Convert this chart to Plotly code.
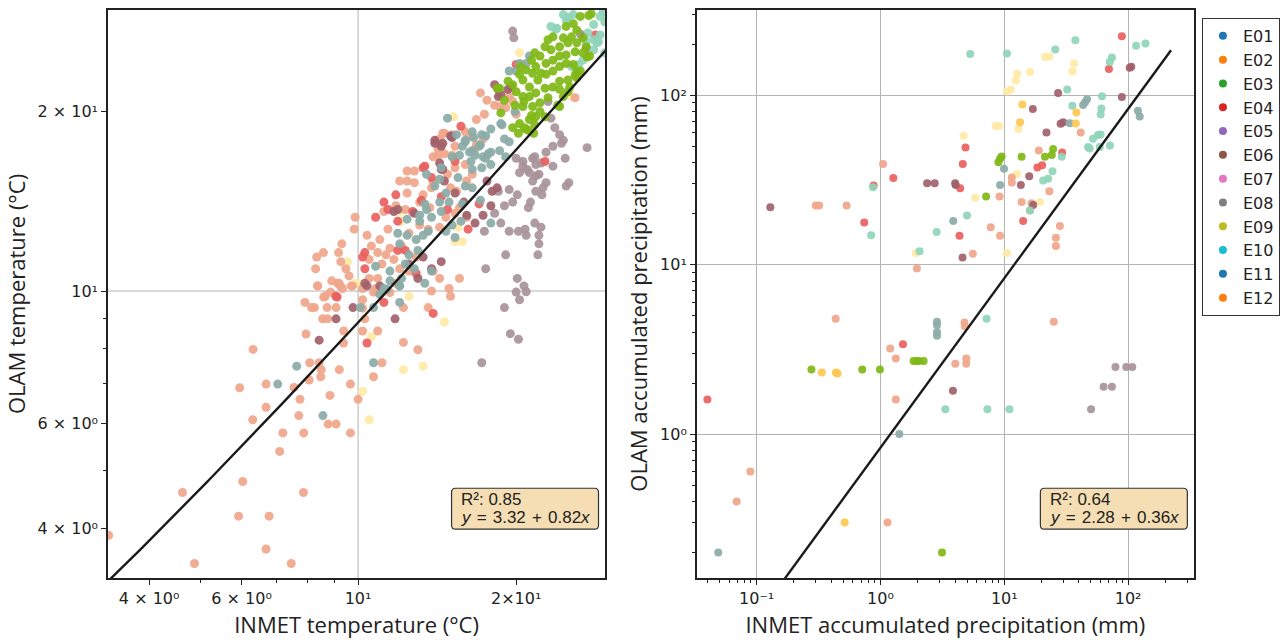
import numpy as np
import plotly.graph_objects as go

# ---------------- data: temperature panel (INMET x, OLAM y) ----------------
T_SALMON_X = [8.38, 9.2, 9.25, 9.7, 8.6, 8.86, 7.92, 8.15, 8.26, 8.73, 9.08, 10.2, 8.56, 8.75, 10.2, 7.96, 9.39, 9.38,
              10.2, 10.9, 10.3, 6.31, 8.09, 8.43, 8.51, 8.49, 8.07, 9.21, 9.67, 10.0, 8.84, 7.75, 7.55, 6.68, 5.95, 6.68,
              6.30, 7.71, 7.19, 7.88, 8.77, 9.08, 9.67, 7.09, 6.03, 4.63, 7.87, 5.92, 6.77, 3.35, 6.68, 4.88, 7.46, 11.1,
              10.7, 12.2, 12.2, 10.7, 13.6, 13.0, 8.3,
              9.87, 9.83, 9.31, 9.18, 8.34, 8.59, 9.27, 9.48, 9.61, 8.91, 8.37, 8.66, 9.14, 9.34, 9.76, 10.4, 10.6, 10.5,
              10.9, 11.0, 11.4, 11.2, 12.0, 12.4, 12.8, 12.4, 12.8, 12.4, 11.8, 12.3, 13.1, 13.7, 13.3, 13.8, 13.9, 14.2,
              14.6, 14.5, 15.1, 15.1, 15.3, 14.8, 15.0, 15.4, 16.0, 16.1, 15.6, 15.3, 16.1, 14.7, 14.3, 13.6, 13.1, 12.5,
              12.1, 11.5, 11.3, 11.1, 10.9, 10.8, 10.5, 10.2, 12.0, 12.5, 12.9, 11.7, 11.8, 11.5, 13.9, 14.3, 14.9, 15.0,
              15.6, 13.8, 11.1, 17.3, 16.7, 16.5,
              17.1, 17.6, 18.2, 18.6, 19.4, 19.7, 20.0, 19.1, 17.4, 16.8, 16.0, 15.1, 14.6, 14.3, 15.3, 14.2, 13.9, 16.4,
              16.8, 25.9]
T_SALMON_Y = [10.2, 10.3, 10.2, 10.2, 9.77, 9.96, 9.57, 9.38, 9.38, 9.38, 9.38, 9.67, 8.98, 8.98, 9.36, 8.47, 8.57, 8.18,
              8.57, 8.57, 8.98, 7.98, 7.58, 7.58, 7.38, 7.18, 7.09, 7.38, 6.98, 6.58, 6.68, 6.58, 6.89, 6.98, 6.88, 6.38,
              6.08, 6.18, 5.78, 5.78, 5.98, 5.98, 5.78, 5.38, 4.79, 4.59, 4.59, 4.19, 4.19, 3.89, 3.69, 3.49, 3.49, 7.58,
              7.18, 8.2, 9.38, 9.96, 9.38, 7.97, 10.9,
              13.3, 12.7, 12.0, 11.6, 11.4, 11.6, 11.2, 10.9, 10.6, 10.4, 10.2, 9.8, 10.3, 10.1, 10.2, 12.4, 11.9, 11.3,
              11.6, 12.2, 12.7, 13.6, 15.3, 15.9, 15.9, 15.3, 15.2, 14.6, 13.9, 13.7, 14.1, 13.8, 14.5, 14.9, 15.2, 16.9,
              17.0, 18.4, 18.2, 16.9, 16.1, 15.7, 14.9, 14.7, 16.3, 15.3, 13.8, 13.5, 13.3, 13.3, 12.8, 12.7, 12.9, 12.5,
              11.9, 11.8, 11.5, 11.1, 10.5, 10.1, 10.5, 10.1, 10.9, 10.8, 11.4, 11.3, 10.3, 9.94, 10.8, 10.5, 10.1, 9.8,
              10.5, 10.0, 10.0, 18.0, 17.3, 15.7,
              21.5, 20.9, 20.5, 20.4, 21.2, 20.8, 19.8, 20.3, 19.8, 19.4, 18.5, 18.3, 18.4, 18.0, 17.5, 17.3, 16.8, 18.2,
              17.6, 21.1]

T_RED_X = [9.12, 10.4, 11.2, 13.9, 10.8, 11.2, 11.8, 10.2, 10.3, 11.4, 11.9, 12.3, 13.3, 13.8, 15.3, 16.2, 17.0, 14.4,
           14.8, 12.7, 13.2, 9.07, 11.9, 12.9, 10.3, 20.0, 13.4, 15.7, 22.7, 28.3]
T_RED_Y = [9.77, 8.18, 9.57, 9.17, 13.3, 14.1, 14.5, 11.4, 11.6, 13.7, 13.1, 11.7, 16.1, 15.5, 16.5, 12.7, 14.0, 14.4,
           13.7, 13.6, 14.2, 9.8, 11.7, 10.7, 10.9, 24.0, 16.2, 18.9, 16.5, 26.9]

T_MAROON_X = [9.78, 9.08, 8.43, 11.76, 10.4, 11.0, 11.9, 11.7, 12.8, 14.0, 14.4, 15.0, 14.4, 15.9, 16.1, 16.7, 17.9,
              18.0, 10.3, 13.3, 13.8, 14.4, 13.0, 15.3, 14.6, 17.3, 17.6, 18.4, 12.5, 18.2, 18.5, 18.7, 19.3, 19.6,
              14.0, 14.5, 14.5, 14.3, 15.1, 18.5, 26.9, 27.2]
T_MAROON_Y = [9.38, 8.98, 8.27, 8.98, 10.2, 10.2, 13.7, 13.6, 13.5, 17.7, 17.5, 18.2, 16.0, 14.1, 13.4, 13.0, 13.9,
              14.7, 10.3, 11.4, 10.9, 11.2, 10.5, 14.6, 15.3, 13.4, 15.3, 14.9, 11.1, 22.2, 21.8, 21.4, 21.8, 22.0,
              17.9, 17.7, 16.0, 16.4, 18.1, 21.2, 26.7, 25.6]

T_TEAL_X = [7.64, 7.03, 8.57, 10.1, 10.7, 10.7, 12.0, 11.35, 12.0,
            13.5, 14.3, 14.0, 14.7, 13.4, 13.5, 13.1, 14.3, 14.9, 14.4, 13.1, 12.4, 13.8, 14.7, 15.1, 13.6, 13.3, 12.9,
            11.9, 12.4, 12.0, 12.5, 13.0, 12.3, 12.8, 12.1, 11.5, 10.8, 11.2, 11.5, 12.0, 11.0, 13.4, 13.8, 15.3, 15.7,
            15.4, 16.0, 16.5, 17.2, 17.1, 16.7, 17.3, 17.7, 16.3, 15.8, 16.4, 17.9, 16.5, 17.2, 15.5, 16.0, 16.5, 17.1,
            17.9, 15.8, 14.4,
            20.0, 19.4, 20.9, 21.2, 20.3, 14.8, 15.1, 15.6, 16.5, 17.0, 17.5, 17.9, 18.6, 19.0, 19.4, 19.1, 17.9, 17.5,
            18.8, 18.7, 19.9, 16.6, 16.0]
T_TEAL_Y = [7.48, 6.98, 6.18, 9.38, 9.38, 7.58, 9.57, 10.07, 10.2,
            15.7, 15.4, 15.0, 14.6, 14.0, 13.7, 13.4, 14.1, 14.1, 13.6, 13.1, 13.2, 13.3, 12.6, 12.9, 12.6, 12.4, 12.2,
            12.5, 12.4, 12.0, 11.5, 11.7, 11.1, 10.9, 10.5, 10.8, 11.0, 10.1, 10.4, 10.2, 9.87, 10.3, 10.8, 12.3, 13.1,
            18.3, 17.9, 18.5, 18.3, 17.6, 16.9, 16.8, 17.0, 17.1, 17.5, 16.5, 16.3, 16.0, 16.1, 15.5, 15.0, 14.9, 14.2,
            13.0, 14.0, 16.1,
            23.4, 23.4, 24.1, 24.8, 24.1, 19.5, 16.8, 16.9, 17.2, 17.5, 16.7, 17.1, 17.2, 18.0, 17.8, 16.8, 18.7, 18.2,
            19.0, 19.1, 20.0, 18.1, 17.8]

T_MAUVE_X = [27.3, 24.4, 24.8, 25.2, 24.9, 22.8, 22.5, 22.4, 21.1, 21.3, 21.8, 21.5, 21.8, 21.0, 21.5, 22.1, 20.1, 19.7,
             19.4, 20.3, 20.6, 18.5, 19.0, 18.2, 18.7, 17.4, 19.4, 20.2, 20.8, 20.9, 21.7, 22.3, 22.1, 22.1, 22.0, 19.1,
             17.5, 20.1, 20.7, 20.9, 20.0, 20.3, 19.0, 19.5, 20.2,
             23.7, 24.2, 23.5, 22.8, 21.7, 22.3, 23.5, 21.2, 21.8, 26.5, 23.0, 23.3, 24.6, 20.0, 20.6, 17.2, 19.8, 19.7]
T_MAUVE_Y = [17.4, 17.7, 16.7, 15.2, 15.0, 15.2, 14.9, 14.5, 13.8, 14.1, 14.7, 15.3, 16.3, 16.0, 16.7, 15.7, 14.5, 14.1,
             14.8, 15.8, 16.5, 14.7, 13.9, 13.5, 13.0, 12.6, 12.6, 12.6, 12.7, 12.4, 13.0, 12.8, 12.4, 12.0, 11.5, 11.5,
             10.9, 10.5, 10.2, 9.97, 9.96, 9.67, 9.38, 8.48, 8.3,
             18.8, 18.3, 17.5, 17.1, 16.8, 16.4, 16.2, 15.8, 15.6, 27.0, 20.8, 19.5, 17.9, 16.7, 16.2, 7.58, 26.6, 27.3]

T_YELLOW_X = [10.6, 10.2, 10.5, 12.2, 9.87, 14.6, 13.3, 9.55, 10.0, 12.1, 12.5, 15.3, 15.8, 12.0, 15.5, 15.2, 20.3, 25.5]
T_YELLOW_Y = [8.38, 6.79, 6.08, 7.38, 10.3, 8.87, 7.48, 11.2, 10.3, 13.1, 9.8, 12.1, 12.1, 13.6, 12.8, 19.6, 25.1, 21.2]

T_MINT_X = [25.7, 28.9, 29.5, 28.1, 28.9, 28.1, 27.2, 28.1, 26.8, 26.3, 25.5, 26.1, 28.5, 27.4, 23.9, 24.9, 24.6, 23.3,
            29.5, 23.8, 25.1, 28.7, 29.3]
T_MINT_Y = [29.1, 28.9, 28.3, 28.0, 26.9, 26.4, 26.2, 25.4, 24.4, 24.0, 23.8, 23.2, 26.1, 27.1, 27.6, 28.5, 29.1, 27.8,
            25.1, 27.5, 28.8, 26.2, 29.4]

T_GREEN_X = [26.5, 27.8, 25.7, 24.9, 26.1, 25.5, 24.6, 23.5, 23.0, 22.7, 23.3, 24.2, 25.1, 26.1, 26.8, 25.9, 24.9, 24.2,
             23.5, 22.8, 22.2, 21.7, 21.4, 21.8, 22.3, 21.5, 20.9, 20.4, 20.3, 20.6, 21.2, 22.0, 22.8, 23.5, 24.2, 24.9,
             25.7, 26.5, 26.1, 25.1, 24.2, 23.5, 22.7, 21.8, 21.2, 20.6, 20.0, 19.3, 18.6, 19.0, 19.9, 20.6, 21.5, 22.2,
             23.0, 24.2, 21.8, 21.2, 20.3, 19.7, 20.2, 20.9, 18.7, 24.2, 27.6, 27.2, 26.8, 26.1, 25.3, 25.1, 24.6, 22.2,
             22.7, 21.7, 20.7,
             18.4, 19.7, 20.7, 21.4, 21.1, 21.6, 24.0, 25.9, 27.3, 27.5]
T_GREEN_Y = [28.9, 29.2, 28.1, 27.8, 27.4, 26.7, 26.6, 26.7, 26.4, 25.7, 25.4, 25.7, 26.1, 26.1, 26.6, 25.2, 24.9, 24.8,
             24.4, 24.1, 24.8, 25.1, 24.4, 23.8, 23.2, 23.2, 23.5, 23.8, 23.1, 22.6, 22.0, 22.6, 23.1, 23.4, 23.8, 24.1,
             24.0, 23.4, 22.8, 22.6, 22.5, 22.0, 21.9, 21.5, 21.2, 21.2, 21.6, 22.5, 21.9, 20.9, 20.5, 20.4, 20.4, 20.7,
             21.1, 20.4, 19.6, 19.4, 19.1, 18.8, 18.4, 18.7, 19.9, 21.8, 24.8, 25.7, 25.1, 23.4, 22.0, 21.6, 21.2, 20.0,
             19.6, 19.0, 18.8,
             21.9, 22.2, 20.8, 19.7, 18.6, 18.4, 20.5, 23.0, 24.7, 29.0]

# linear fit drawn on the temperature panel: y = a + b*x
T_FIT_A, T_FIT_B = 0.45, 0.84

# ---------------- data: precipitation panel (INMET x, OLAM y) ----------------
P_MINT_X = [5.3, 10.5, 25.8, 37.5, 32.2, 35.5, 61.5, 60.8, 60, 74, 71, 116, 138, 52, 57, 60, 47.5, 49, 59, 71.3, 29.1,
            24.5, 22.6, 20.6, 5.0, 2.84, 0.84, 0.87, 2.07, 7.2, 3.34, 7.3, 11.0, 16.1]
P_MINT_Y = [175, 176, 186, 211, 108, 86.7, 98.6, 83.4, 77, 167, 157, 196, 202, 55.4, 58.2, 58.7, 49.4, 48.5, 49.4, 50.4,
            43.3, 35.6, 32.1, 31.4, 19.5, 15.6, 14.9, 28.6, 12.0, 4.79, 1.40, 1.40, 1.40, 20.9]

P_TEAL_X = [43.3, 44.9, 46.6, 33.8, 120, 124, 9.95, 9.24, 3.87, 2.86, 2.86, 2.86, 2.86, 1.42, 0.049]
P_TEAL_Y = [87.5, 91, 94.7, 68.4, 80.9, 74.8, 36.8, 29.5, 18.1, 4.6, 4.4, 4.0, 3.8, 1.0, 0.20]

P_RED_X = [89, 70, 4.86, 4.62, 1.27, 0.88, 4.40, 0.74, 4.35, 14.2, 18.5, 20.2, 29.3, 1.52, 0.040]
P_RED_Y = [223, 143, 49.2, 39.2, 32.4, 29.3, 28.2, 17.7, 14.8, 18.1, 37.4, 38.6, 45.9, 3.39, 1.60]

P_MAROON_X = [27.2, 17.0, 89, 106, 103, 21.9, 28.5, 29.9, 15.9, 13.6, 17.1, 2.38, 2.74, 4.01, 4.05, 0.129, 4.60, 3.85]
P_MAROON_Y = [103, 83, 97.5, 147, 145, 60.2, 67.8, 69.2, 33.2, 29.5, 22.5, 30.2, 30.2, 30.2, 29.5, 21.8, 11.0, 1.80]

P_YELLOW_X = [21.3, 23.1, 35.5, 36.6, 12.7, 16.1, 12.4, 10.5, 11.3, 8.53, 9.07, 13.0, 4.69, 12.6, 5.85, 19.4, 10.5, 1.93]
P_YELLOW_Y = [168, 169, 138, 154, 134, 137, 122, 105, 108, 65.8, 65.8, 63.2, 57.6, 34.3, 24.8, 23.4, 11.7, 11.7]

P_GOLD_X = [14.0, 13.4, 38.2, 37.8, 0.336, 0.437, 0.45, 0.514]
P_GOLD_Y = [88, 69.2, 79, 68.1, 2.31, 2.31, 2.28, 0.30]

P_GREEN_X = [9.24, 8.96, 9.52, 13.8, 21.3, 24.2, 24.8, 7.13, 0.277, 0.713, 0.99, 1.85, 1.95, 2.04, 2.23, 3.14]
P_GREEN_Y = [42.2, 40.2, 43.5, 43.3, 43.3, 44.4, 48.2, 25.2, 2.40, 2.40, 2.40, 2.70, 2.70, 2.70, 2.70, 0.20]

P_SALMON_X = [1.05, 41.4, 19.0, 11.5, 11.5, 9.15, 13.8, 16.6, 16.1, 23.1, 28.1, 26.1, 26.1, 7.77, 9.24, 5.57, 1.97,
              0.533, 0.30, 0.32, 0.435, 4.77, 4.80, 1.20, 1.33, 4.02, 4.93, 4.93, 25.1, 1.33, 0.089, 0.069, 1.14]
P_SALMON_Y = [39.2, 60.2, 47.1, 32.7, 30.5, 25.2, 23.4, 23.0, 20.9, 27.1, 16.9, 14.4, 12.9, 16.6, 14.8, 11.6, 9.5,
              22.3, 22.3, 22.3, 4.79, 4.56, 4.32, 3.20, 2.79, 2.60, 2.79, 2.60, 4.60, 1.60, 0.60, 0.40, 0.30]

P_MAUVE_X = [79, 96.6, 108, 63.4, 74, 50.2]
P_MAUVE_Y = [2.49, 2.49, 2.49, 1.90, 1.90, 1.40]

P_FIT_A, P_FIT_B = 0.0, 0.83
P_FIT_XMAX = 222

LEGEND_NAMES = ["E01", "E02", "E03", "E04", "E05", "E06", "E07", "E08", "E09", "E10", "E11", "E12"]
LEGEND_COLORS = ["#1f77b4", "#ff7f0e", "#2ca02c", "#d62728", "#9467bd", "#8c564b",
                 "#e377c2", "#7f7f7f", "#bcbd22", "#17becf", "#1f77b4", "#ff7f0e"]

T_XTICKS = [4, 6, 10, 20]
T_XTICKTEXT = ["4 × 10⁰", "6 × 10⁰", "10¹", "2×10¹"]
T_YTICKS = [4, 6, 10, 20]
T_YTICKTEXT = ["4 × 10⁰", "6 × 10⁰", "10¹", "2 × 10¹"]
P_XTICKS = [0.1, 1, 10, 100]
P_XTICKTEXT = ["10⁻¹", "10⁰", "10¹", "10²"]
P_YTICKS = [1, 10, 100]
P_YTICKTEXT = ["10⁰", "10¹", "10²"]

STATS_TEXT = [("R²: 0.85", "<i>y</i>\u200a = \u200a3.32\u200a + \u200a0.82<i>x</i>"),
              ("R²: 0.64", "<i>y</i>\u200a = \u200a2.28\u200a + \u200a0.36<i>x</i>")]

# ---------------- styling ----------------
COL = {
    "yellow": "#FFE9A4", "mauve": "#A8939A", "salmon": "#F0A68B", "red": "#E9605E",
    "maroon": "#A1616A", "teal": "#8AABA7", "mint": "#8FD5B8", "gold": "#FFC74F", "green": "#80B817",
}

fig = go.Figure()


def add_group(x, y, color, xa, ya, size):
    fig.add_trace(go.Scatter(x=x, y=y, mode="markers", xaxis=xa, yaxis=ya, showlegend=False,
                             hoverinfo="skip",
                             marker=dict(color=color, size=size, opacity=0.92, line=dict(width=0))))


left_groups = [(T_YELLOW_X, T_YELLOW_Y, "yellow"), (T_MAUVE_X, T_MAUVE_Y, "mauve"),
               (T_SALMON_X, T_SALMON_Y, "salmon"), (T_RED_X, T_RED_Y, "red"),
               (T_MAROON_X, T_MAROON_Y, "maroon"), (T_TEAL_X, T_TEAL_Y, "teal"),
               (T_MINT_X, T_MINT_Y, "mint"), (T_GREEN_X, T_GREEN_Y, "green")]
for gx, gy, c in left_groups:
    add_group(gx, gy, COL[c], "x", "y", 9)

right_groups = [(P_YELLOW_X, P_YELLOW_Y, "yellow"), (P_MAUVE_X, P_MAUVE_Y, "mauve"),
                (P_SALMON_X, P_SALMON_Y, "salmon"), (P_RED_X, P_RED_Y, "red"),
                (P_MAROON_X, P_MAROON_Y, "maroon"), (P_TEAL_X, P_TEAL_Y, "teal"),
                (P_MINT_X, P_MINT_Y, "mint"), (P_GOLD_X, P_GOLD_Y, "gold"), (P_GREEN_X, P_GREEN_Y, "green")]
for gx, gy, c in right_groups:
    add_group(gx, gy, COL[c], "x2", "y2", 8)

# fit lines
tx = np.geomspace(3.0, 35.0, 120)
fig.add_trace(go.Scatter(x=tx, y=T_FIT_A + T_FIT_B * tx, mode="lines", xaxis="x", yaxis="y",
                         showlegend=False, hoverinfo="skip", line=dict(color="#1a1a1a", width=2.4)))
px_ = np.geomspace(0.02, P_FIT_XMAX, 120)
fig.add_trace(go.Scatter(x=px_, y=P_FIT_A + P_FIT_B * px_, mode="lines", xaxis="x2", yaxis="y2",
                         showlegend=False, hoverinfo="skip", line=dict(color="#1a1a1a", width=2.4)))

# legend entries
for n, c in zip(LEGEND_NAMES, LEGEND_COLORS):
    fig.add_trace(go.Scatter(x=[None], y=[None], mode="markers", name=n, xaxis="x2", yaxis="y2",
                             marker=dict(color=c, size=8)))

TICKFONT = dict(family="DejaVu Sans", size=16, color="#222")
TITLEFONT = dict(family="Open Sans", size=22, color="#222")
LINE = dict(showline=True, mirror=True, linecolor="#222", linewidth=1.6, ticks="outside",
            ticklen=5, tickwidth=1.2, tickcolor="#222", zeroline=False, tickfont=TICKFONT)

W, H = 1288, 642
ML, MR, MT, MB = 108, 90, 8, 64

fig.update_layout(
    width=W, height=H, margin=dict(l=ML, r=MR, t=MT, b=MB),
    plot_bgcolor="white", paper_bgcolor="white",
    xaxis=dict(domain=[0, 0.4578], type="log", range=[0.5237, 1.4706], showgrid=False,
               tickmode="array", tickvals=T_XTICKS, ticktext=T_XTICKTEXT,
               minor=dict(tickmode="array", tickvals=[5, 7, 8, 9], ticks="outside", ticklen=3,
                          tickcolor="#222", showgrid=False),
               title=dict(text="INMET temperature (°C)", font=TITLEFONT, standoff=11), **LINE),
    yaxis=dict(domain=[0, 1], type="log", range=[0.5184, 1.4716], showgrid=False,
               tickmode="array", tickvals=T_YTICKS, ticktext=T_YTICKTEXT,
               minor=dict(tickmode="array", tickvals=[5, 7, 8, 9], ticks="outside", ticklen=3,
                          tickcolor="#222", showgrid=False),
               title=dict(text="OLAM temperature (°C)", font=TITLEFONT, standoff=6), **LINE),
    xaxis2=dict(domain=[0.5422, 1], type="log", range=[-1.483, 2.532], anchor="y2",
                showgrid=True, gridcolor="#B4B4B4", gridwidth=1,
                tickmode="array", tickvals=P_XTICKS, ticktext=P_XTICKTEXT,
                minor=dict(tickmode="array",
                           tickvals=[0.04, 0.05, 0.06, 0.07, 0.08, 0.09] + [k / 10 for k in range(2, 10)]
                           + list(range(2, 10)) + list(range(20, 100, 10)) + [200, 300],
                           ticks="outside", ticklen=3, tickcolor="#222", showgrid=False),
                title=dict(text="INMET accumulated precipitation (mm)", font=TITLEFONT, standoff=11), **LINE),
    yaxis2=dict(domain=[0, 1], type="log", range=[-0.85, 2.503], anchor="x2",
                showgrid=True, gridcolor="#B4B4B4", gridwidth=1,
                tickmode="array", tickvals=P_YTICKS, ticktext=P_YTICKTEXT,
                minor=dict(tickmode="array",
                           tickvals=[k / 10 for k in range(2, 10)] + list(range(2, 10))
                           + list(range(20, 100, 10)) + [200, 300],
                           ticks="outside", ticklen=3, tickcolor="#222", showgrid=False),
                title=dict(text="OLAM accumulated precipitation (mm)", font=TITLEFONT, standoff=6), **LINE),
    legend=dict(x=1.0073, y=0.986, xanchor="left", yanchor="top", xref="paper", yref="paper",
                bordercolor="#333", borderwidth=1, bgcolor="white",
                font=dict(family="DejaVu Sans", size=16, color="#222"), itemwidth=30,
                tracegroupgap=0),
)

# grid lines at the decade of the temperature panel
fig.add_shape(type="line", xref="x", yref="y domain", x0=10, x1=10, y0=0, y1=1, layer="below",
              line=dict(color="#B4B4B4", width=1))
fig.add_shape(type="line", xref="x domain", yref="y", x0=0, x1=1, y0=10, y1=10, layer="below",
              line=dict(color="#B4B4B4", width=1))

# stats boxes (rounded rectangles) with two text lines each
PW, PH = 499.0, 570.0          # subplot size in px
BOX_X0, BOX_X1 = 0.6910, 0.9866
BOX_Y0, BOX_Y1 = 0.086, 0.158
rx, ry = 4 / PW, 4 / PH
for (xa, ya), (l1, l2) in zip([("x", "y"), ("x2", "y2")], STATS_TEXT):
    x0, x1, y0, y1 = BOX_X0, BOX_X1, BOX_Y0, BOX_Y1
    path = (f"M {x0+rx},{y0} L {x1-rx},{y0} Q {x1},{y0} {x1},{y0+ry} L {x1},{y1-ry} "
            f"Q {x1},{y1} {x1-rx},{y1} L {x0+rx},{y1} Q {x0},{y1} {x0},{y1-ry} "
            f"L {x0},{y0+ry} Q {x0},{y0} {x0+rx},{y0} Z")
    fig.add_shape(type="path", path=path, xref=f"{xa} domain", yref=f"{ya} domain",
                  fillcolor="#F5DEB3", line=dict(color="#333", width=1.2), layer="above")
    for txt, yy in [(l1, 0.1375), (l2, 0.106)]:
        fig.add_annotation(xref=f"{xa} domain", yref=f"{ya} domain", x=0.7054, y=yy,
                           xanchor="left", yanchor="middle", align="left", showarrow=False,
                           text=txt, font=dict(family="Liberation Sans", size=17, color="#222"))

fig.write_html("out.html")
